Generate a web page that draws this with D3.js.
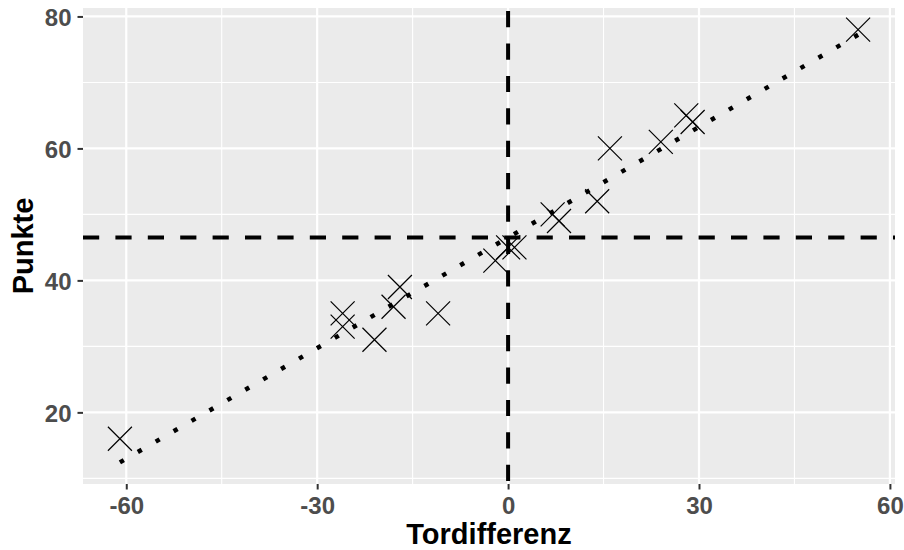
<!DOCTYPE html>
<html>
<head>
<meta charset="utf-8">
<script src="https://cdn.jsdelivr.net/npm/d3@7"></script>
<style>
html,body{margin:0;padding:0;background:#fff;}
svg{display:block;}
</style>
</head>
<body>
<svg id="chart" width="904" height="550"></svg>
<script>
// Data (Tordifferenz vs. Punkte, 18 teams)
const tordifferenz = [-61, -26, -26, -21, -18, -17, -11, -2, 0, 1, 7, 8, 14, 16, 24, 28, 29, 55];
const punkte       = [ 16,  35,  33,  31,  36,  39,  35, 43, 45, 45, 50, 49, 52, 60, 61, 65, 64, 78];
const xTicks = [-60, -30, 0, 30, 60];
const yTicks = [20, 40, 60, 80];
const xMinor = [-45, -15, 15, 45];
const yMinor = [10, 30, 50, 70];
const xTitle = "Tordifferenz";
const yTitle = "Punkte";

const svg = d3.select("#chart");
const L = 83, R = 895, T = 8, B = 484;

const n = tordifferenz.length;
const mx = d3.mean(tordifferenz), my = d3.mean(punkte);
let sxy = 0, sxx = 0;
for (let i = 0; i < n; i++) { sxy += (tordifferenz[i]-mx)*(punkte[i]-my); sxx += (tordifferenz[i]-mx)**2; }
const slope = sxy/sxx, intercept = my - slope*mx;
const xmin = d3.min(tordifferenz), xmax = d3.max(tordifferenz);
const fit = [[xmin, intercept + slope*xmin], [xmax, intercept + slope*xmax]];

const ylo = Math.min(d3.min(punkte), fit[0][1], fit[1][1]);
const yhi = Math.max(d3.max(punkte), fit[0][1], fit[1][1]);
const ex = (xmax - xmin)*0.05, ey = (yhi - ylo)*0.05;

const x = d3.scaleLinear().domain([xmin - ex, xmax + ex]).range([L, R]);
const y = d3.scaleLinear().domain([ylo - ey, yhi + ey]).range([B, T]);

svg.append("rect").attr("x", L).attr("y", T).attr("width", R-L).attr("height", B-T).attr("fill", "#EBEBEB");

const grid = svg.append("g");
grid.selectAll(".xmin").data(xMinor).join("line")
  .attr("x1", d=>x(d)).attr("x2", d=>x(d)).attr("y1", T).attr("y2", B)
  .attr("stroke", "#fff").attr("stroke-width", 1.1);
grid.selectAll(".ymin").data(yMinor).join("line")
  .attr("y1", d=>y(d)).attr("y2", d=>y(d)).attr("x1", L).attr("x2", R)
  .attr("stroke", "#fff").attr("stroke-width", 1.1);
grid.selectAll(".xmaj").data(xTicks).join("line")
  .attr("x1", d=>x(d)).attr("x2", d=>x(d)).attr("y1", T).attr("y2", B)
  .attr("stroke", "#fff").attr("stroke-width", 2.2);
grid.selectAll(".ymaj").data(yTicks).join("line")
  .attr("y1", d=>y(d)).attr("y2", d=>y(d)).attr("x1", L).attr("x2", R)
  .attr("stroke", "#fff").attr("stroke-width", 2.2);

// points (shape = cross)
const s = 12;
const pts = svg.append("g");
tordifferenz.forEach((xv, i) => {
  const cx = x(xv), cy = y(punkte[i]);
  pts.append("path")
    .attr("d", `M${cx-s},${cy-s}L${cx+s},${cy+s}M${cx-s},${cy+s}L${cx+s},${cy-s}`)
    .attr("stroke", "#000").attr("stroke-width", 1.2).attr("fill", "none");
});

// regression line (dotted)
svg.append("path")
  .attr("d", d3.line().x(d=>x(d[0])).y(d=>y(d[1]))(fit))
  .attr("stroke", "#000").attr("stroke-width", 4.5).attr("fill", "none")
  .attr("stroke-dasharray", "4.5,16.2");

// clip for reference lines
svg.append("clipPath").attr("id", "pc").append("rect")
  .attr("x", L).attr("y", T).attr("width", R-L).attr("height", B-T);

svg.append("line").attr("clip-path", "url(#pc)")
  .attr("x1", L).attr("x2", R).attr("y1", y(my)).attr("y2", y(my))
  .attr("stroke", "#000").attr("stroke-width", 4).attr("stroke-dasharray", "16.2,16.2");
svg.append("line").attr("clip-path", "url(#pc)")
  .attr("x1", x(mx)).attr("x2", x(mx)).attr("y1", T).attr("y2", B)
  .attr("stroke", "#000").attr("stroke-width", 4).attr("stroke-dasharray", "16.2,16.2")
  .attr("stroke-dashoffset", 29.3);

// axes
const xAxis = svg.append("g").attr("transform", `translate(0,${B})`)
  .call(d3.axisBottom(x).tickValues(xTicks).tickSize(5.5).tickPadding(7).tickFormat(d3.format("d")));
const yAxis = svg.append("g").attr("transform", `translate(${L},0)`)
  .call(d3.axisLeft(y).tickValues(yTicks).tickSize(5.5).tickPadding(6).tickFormat(d3.format("d")));
[xAxis, yAxis].forEach(a => {
  a.select(".domain").remove();
  a.selectAll(".tick line").attr("stroke", "#333333").attr("stroke-width", 2);
  a.selectAll(".tick text").attr("fill", "#4D4D4D")
    .style("font-family", "'Liberation Sans', Arial, sans-serif")
    .style("font-size", "24px").style("font-weight", "bold");
});
xAxis.selectAll(".tick text").text(d => d < 0 ? "-" + Math.abs(d) : d);
yAxis.selectAll(".tick text").attr("dy", "0.36em");

svg.append("text").attr("x", (L+R)/2).attr("y", 544).attr("text-anchor", "middle")
  .style("font-family", "'Liberation Sans', Arial, sans-serif").style("font-size", "29px")
  .style("font-weight", "bold").attr("fill", "#000").text(xTitle);
svg.append("text").attr("transform", `translate(33,${(T+B)/2}) rotate(-90)`).attr("text-anchor", "middle")
  .style("font-family", "'Liberation Sans', Arial, sans-serif").style("font-size", "29px")
  .style("font-weight", "bold").attr("fill", "#000").text(yTitle);
</script>
</body>
</html>
